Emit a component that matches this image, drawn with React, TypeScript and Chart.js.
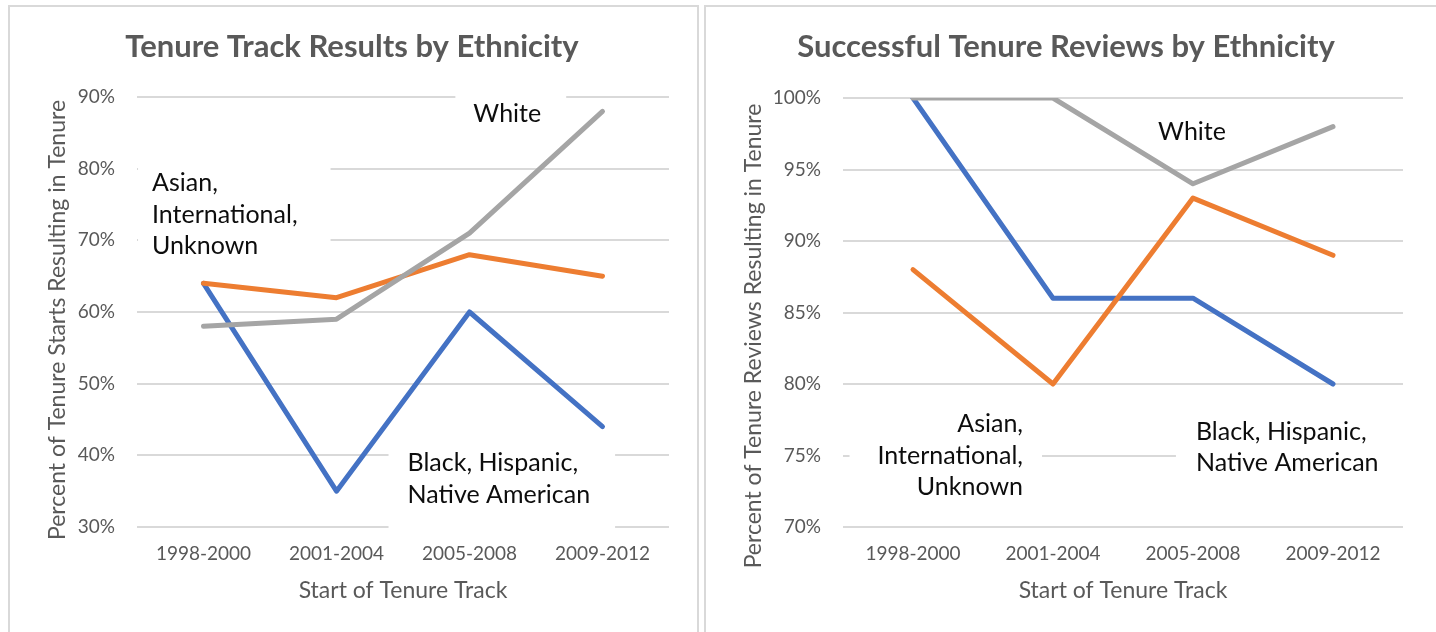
import React, { useEffect, useRef } from "react";
import { Chart, registerables } from "chart.js";
Chart.register(...registerables);

// ---- data ----
const periods = ["1998-2000", "2001-2004", "2005-2008", "2009-2012"];

const trackWhite = [58, 59, 71, 88];
const trackAsian = [64, 62, 68, 65];
const trackBlack = [64, 35, 60, 44];

const reviewWhite = [100, 100, 94, 98];
const reviewAsian = [88, 80, 93, 89];
const reviewBlack = [100, 86, 86, 80];

const seriesNames = ["White", "Asian, International, Unknown", "Black, Hispanic, Native American"];
const seriesColors = ["#A5A5A5", "#ED7D31", "#4472C4"];

const FONT = "Lato, 'Open Sans', sans-serif";
const GREY_TEXT = "#595959";
const NOTE_FONT_SIZE = 25;
const NOTE_LINE = 31.5;

type Note = { lines: string[]; xIdx: number; yVal: number; align: "left" | "center" | "right"; pad: number[] };
type Decor = {
  title: string; titleX: number; titleY: number;
  yTitle: string; yTitleX: number; yTitleY: number;
  notes: Note[];
};

function makeDecor(d: Decor) {
  const layout = (chart: any, n: Note) => {
    const { ctx } = chart;
    const ax = chart.scales.x.getPixelForValue(n.xIdx);
    const ay = chart.scales.y.getPixelForValue(n.yVal);
    ctx.font = `${NOTE_FONT_SIZE}px ${FONT}`;
    const w = Math.max(...n.lines.map((l) => ctx.measureText(l).width));
    const h = n.lines.length * NOTE_LINE;
    const left = n.align === "left" ? ax : n.align === "right" ? ax - w : ax - w / 2;
    const top = ay - h / 2;
    return { ax, ay, w, h, left, top };
  };
  return {
    id: "decor",
    beforeDatasetsDraw(chart: any) {
      const { ctx } = chart;
      ctx.save();
      for (const n of d.notes) {
        const L = layout(chart, n);
        ctx.fillStyle = "#ffffff";
        ctx.fillRect(L.left - n.pad[0], L.top - n.pad[1], L.w + n.pad[0] + n.pad[2], L.h + n.pad[1] + n.pad[3]);
      }
      ctx.restore();
    },
    afterDraw(chart: any) {
      const { ctx } = chart;
      ctx.save();
      // notes
      for (const n of d.notes) {
        const L = layout(chart, n);
        ctx.fillStyle = "#0d0d0d";
        ctx.textBaseline = "middle";
        ctx.textAlign = n.align;
        n.lines.forEach((line, i) => {
          ctx.fillText(line, L.ax, L.top + NOTE_LINE * (i + 0.5));
        });
      }
      // chart title
      ctx.font = `bold 31px ${FONT}`;
      ctx.fillStyle = GREY_TEXT;
      ctx.textAlign = "center";
      ctx.textBaseline = "middle";
      ctx.fillText(d.title, d.titleX, d.titleY);
      // y axis title
      ctx.font = `23px ${FONT}`;
      ctx.translate(d.yTitleX, d.yTitleY);
      ctx.rotate(-Math.PI / 2);
      ctx.fillText(d.yTitle, 0, 0);
      ctx.restore();
    },
  };
}

type Spec = {
  white: number[]; asian: number[]; black: number[];
  min: number; max: number; step: number;
  width: number; height: number;
  padTop: number; padRight: number; yWidth: number; xHeight: number;
  decor: Decor;
};

function LineChart({ spec, style }: { spec: Spec; style: React.CSSProperties }) {
  const ref = useRef<HTMLCanvasElement>(null);
  useEffect(() => {
    if (!ref.current) return;
    const values = [spec.white, spec.asian, spec.black];
    const chart = new Chart(ref.current, {
      type: "line",
      data: {
        labels: periods,
        datasets: values.map((v, i) => ({
          label: seriesNames[i],
          data: v,
          borderColor: seriesColors[i],
          backgroundColor: seriesColors[i],
          borderWidth: 5,
          pointRadius: 0,
          tension: 0,
          borderCapStyle: "round",
          borderJoinStyle: "round",
          fill: false,
        })),
      },
      options: {
        responsive: false,
        animation: false,
        layout: { padding: { top: spec.padTop, right: spec.padRight, left: 0, bottom: 0 } },
        plugins: { legend: { display: false }, title: { display: false }, tooltip: { enabled: false } },
        scales: {
          x: {
            offset: true,
            grid: { display: false, drawTicks: false },
            border: { display: false },
            ticks: { color: GREY_TEXT, font: { family: FONT, size: 19 }, padding: 15, maxRotation: 0 },
            title: {
              display: true,
              text: "Start of Tenure Track",
              color: GREY_TEXT,
              font: { family: FONT, size: 23 },
              padding: { top: 0, bottom: 28 },
            },
            afterFit: (s: any) => { s.height = spec.xHeight; },
          },
          y: {
            min: spec.min,
            max: spec.max,
            grid: { color: "#d9d9d9", lineWidth: 2, drawTicks: false },
            border: { display: false },
            ticks: {
              stepSize: spec.step,
              color: GREY_TEXT,
              font: { family: FONT, size: 19 },
              padding: 22,
              callback: (v: any) => `${v}%`,
            },
            afterFit: (s: any) => { s.width = spec.yWidth; },
          },
        },
      } as any,
      plugins: [makeDecor(spec.decor)],
    });
    return () => chart.destroy();
  }, [spec]);
  return <canvas ref={ref} width={spec.width} height={spec.height} style={{ position: "absolute", ...style }} />;
}

const leftSpec: Spec = {
  white: trackWhite, asian: trackAsian, black: trackBlack,
  min: 30, max: 90, step: 10,
  width: 686, height: 632,
  padTop: 97, padRight: 27, yWidth: 127, xHeight: 105,
  decor: {
    title: "Tenure Track Results by Ethnicity", titleX: 342, titleY: 47,
    yTitle: "Percent of Tenure Starts Resulting in Tenure", yTitleX: 48, yTitleY: 320,
    notes: [
      { lines: ["White"], xIdx: 2.284, yVal: 87.6, align: "center", pad: [18, 7, 25, 8] },
      { lines: ["Asian,", "International,", "Unknown"], xIdx: -0.387, yVal: 73.6, align: "left", pad: [14, 6, 33, 6] },
      { lines: ["Black, Hispanic,", "Native American"], xIdx: 1.534, yVal: 36.7, align: "left", pad: [19, 9, 25, 21] },
    ],
  },
};

const rightSpec: Spec = {
  white: reviewWhite, asian: reviewAsian, black: reviewBlack,
  min: 70, max: 100, step: 5,
  width: 728, height: 632,
  padTop: 98, padRight: 33, yWidth: 135, xHeight: 105,
  decor: {
    title: "Successful Tenure Reviews by Ethnicity", titleX: 358, titleY: 47,
    yTitle: "Percent of Tenure Reviews Resulting in Tenure", yTitleX: 46, yTitleY: 336,
    notes: [
      { lines: ["White"], xIdx: 1.993, yVal: 97.6, align: "center", pad: [6, 6, 6, 6] },
      { lines: ["Asian,", "International,", "Unknown"], xIdx: 0.786, yVal: 75.0, align: "right", pad: [28, 6, 19, 6] },
      { lines: ["Black, Hispanic,", "Native American"], xIdx: 2.021, yVal: 75.57, align: "left", pad: [20, 6, 34, 6] },
    ],
  },
};

export default function App() {
  useEffect(() => {
    document.body.style.margin = "0";
    document.body.style.background = "#ffffff";
  }, []);
  return (
    <div style={{ position: "relative", width: 1436, height: 632, overflow: "hidden", background: "#fff" }}>
      <div style={{ position: "absolute", left: 8, top: 5, width: 691, height: 700, border: "2px solid #d9d9d9", boxSizing: "border-box" }} />
      <div style={{ position: "absolute", left: 704, top: 5, width: 760, height: 700, border: "2px solid #d9d9d9", boxSizing: "border-box" }} />
      <LineChart spec={leftSpec} style={{ left: 10, top: 0 }} />
      <LineChart spec={rightSpec} style={{ left: 708, top: 0 }} />
    </div>
  );
}
